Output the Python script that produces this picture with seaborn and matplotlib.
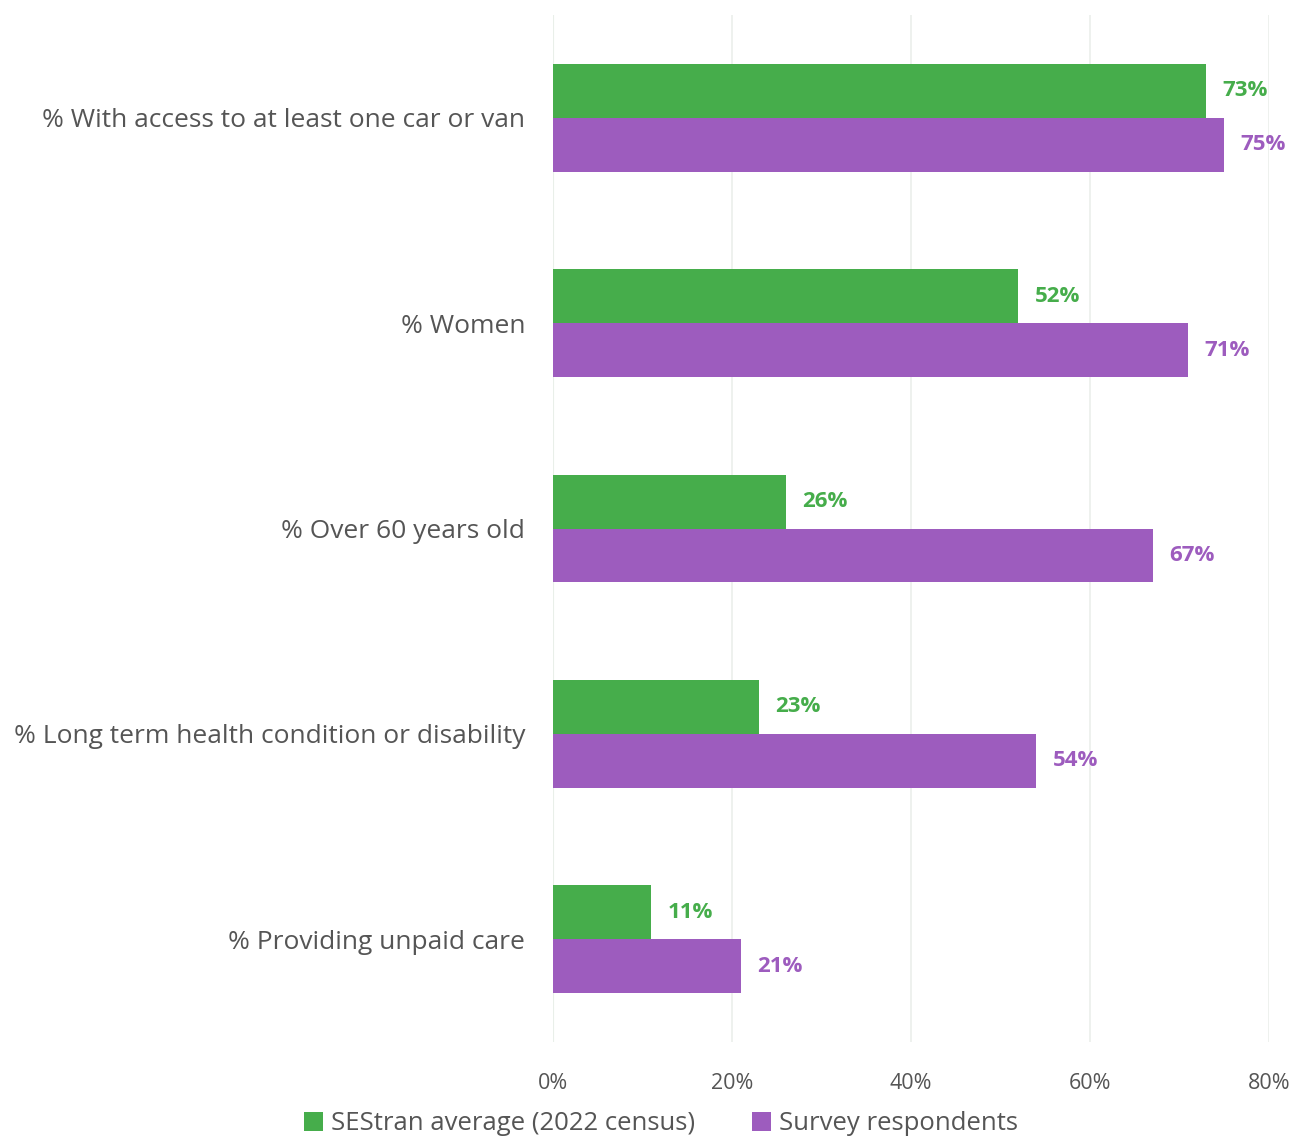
import matplotlib
matplotlib.use("Agg")
import matplotlib.pyplot as plt
import seaborn as sns
import pandas as pd
from matplotlib.patches import Patch

categories = [
    "% With access to at least one car or van",
    "% Women",
    "% Over 60 years old",
    "% Long term health condition or disability",
    "% Providing unpaid care",
]
series_names = ["SEStran average (2022 census)", "Survey respondents"]
sestran_values = [73, 52, 26, 23, 11]
survey_values = [75, 71, 67, 54, 21]
x_ticks = [0, 20, 40, 60, 80]
x_tick_labels = ["0%", "20%", "40%", "60%", "80%"]

GREEN = "#46ad4b"
PURPLE = "#9d5cbe"
TEXT = "#555555"

df = pd.DataFrame({
    "category": categories * 2,
    "series": [series_names[0]] * len(categories) + [series_names[1]] * len(categories),
    "value": sestran_values + survey_values,
})

sns.set_theme(style="white")
plt.rcParams["font.family"] = ["Open Sans", "DejaVu Sans"]

fig = plt.figure(figsize=(12.96, 11.42), dpi=100)
ax = fig.add_axes([553 / 1296, 1 - 1042 / 1142, (1269 - 553) / 1296, (1042 - 15) / 1142])

sns.barplot(
    data=df, y="category", x="value", hue="series", orient="h",
    palette=[GREEN, PURPLE], width=0.525, ax=ax, legend=False,
    order=categories, hue_order=series_names, saturation=1,
    linewidth=0,
)

ax.set_xlim(0, 80)
ax.set_ylim(len(categories) - 0.5, -0.5)
ax.set_xticks(x_ticks)
ax.set_xticklabels(x_tick_labels, fontsize=15.5, color=TEXT)
ax.tick_params(axis="y", labelsize=19, labelcolor=TEXT, length=0, pad=20)
ax.tick_params(axis="x", length=0, pad=22)
ax.set_xlabel("")
ax.set_ylabel("")
for s in ax.spines.values():
    s.set_visible(False)
ax.grid(axis="x", color="#ebefeb", linewidth=1.2)
ax.axvline(0, color="#e2efe2", linewidth=1.5, zorder=0)
ax.set_axisbelow(True)

for container, color in zip(ax.containers, [GREEN, PURPLE]):
    for bar in container:
        w = bar.get_width()
        ax.text(w + 1.8, bar.get_y() + bar.get_height() / 2, f"{w:.0f}%",
                ha="left", va="center", fontsize=16, fontweight="bold",
                color=color, clip_on=False)

handles = [Patch(facecolor=GREEN, edgecolor="none"), Patch(facecolor=PURPLE, edgecolor="none")]
fig.legend(handles, series_names, loc="center", bbox_to_anchor=(0.51, 1 - 1124 / 1142),
           ncol=2, frameon=False, fontsize=18.5, labelcolor=TEXT,
           handlelength=0.75, handleheight=0.75, handletextpad=0.3, columnspacing=2.2)

fig.savefig("out.png", dpi=100)
